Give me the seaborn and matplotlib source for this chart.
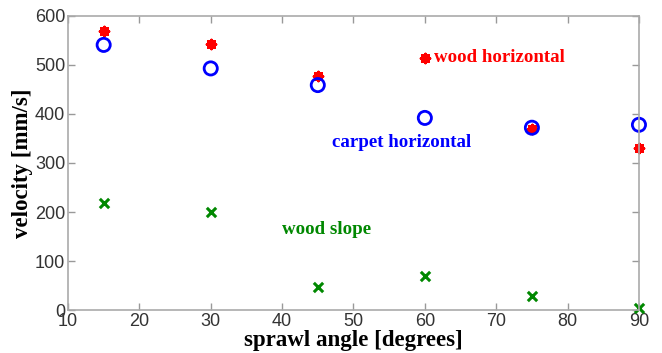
import pandas as pd
import matplotlib
matplotlib.use('Agg')
import matplotlib.pyplot as plt
import seaborn as sns

# sprawl angle values and measured velocities (mm/s)
angles = [15, 30, 45, 60, 75, 90]
wood_horizontal = [570, 543, 477, 515, 370, 331]
carpet_horizontal = [541, 493, 459, 392, 372, 378]
wood_slope = [219, 200, 46, 69, 28, 4]

sns.set_theme(style='white')
plt.rcParams['font.family'] = ['Liberation Sans', 'DejaVu Sans']

df = pd.DataFrame({
    'angle': angles * 3,
    'velocity': carpet_horizontal + wood_horizontal + wood_slope,
    'surface': ['carpet horizontal'] * 6 + ['wood horizontal'] * 6 + ['wood slope'] * 6,
})

fig = plt.figure(figsize=(6.62, 3.53), dpi=100)
ax = fig.add_axes([0.1027, 0.1218, 0.8625, 0.8329])

# wood horizontal: red asterisks (drawn first so the circle sits on top)
sns.scatterplot(data=df[df['surface'] == 'wood horizontal'], x='angle', y='velocity',
                marker=(8, 2, 0), s=38, color='#ff0000', edgecolor='#ff0000', linewidth=2.2,
                ax=ax, clip_on=False)
# carpet: open blue circles
sns.scatterplot(data=df[df['surface'] == 'carpet horizontal'], x='angle', y='velocity',
                marker='o', s=90, facecolor='none', edgecolor='#0000ff', linewidth=2,
                ax=ax, clip_on=False)
# wood slope: green crosses
sns.scatterplot(data=df[df['surface'] == 'wood slope'], x='angle', y='velocity',
                marker='x', s=45, color='#008800', linewidth=2.2, ax=ax, clip_on=False)

ax.set_xlim(10, 90)
ax.set_ylim(0, 600)
ax.set_xticks(range(10, 91, 10))
ax.set_yticks(range(0, 601, 100))

ax.tick_params(direction='in', length=5, width=1, colors='#999999', labelcolor='#333333',
               labelsize=13, top=True, right=True, bottom=True, left=True, pad=2)
for sp in ax.spines.values():
    sp.set_color('#aaaaaa')
    sp.set_linewidth(1.2)

ax.set_xlabel('sprawl angle [degrees]', family='Liberation Serif', fontweight='bold',
              fontsize=16.5, color='black', labelpad=0)
ax.set_ylabel('velocity [mm/s]', family='Liberation Serif', fontweight='bold',
              fontsize=16.5, color='black', labelpad=1)

ax.text(61.3, 515, 'wood horizontal', color='#ff0000', family='Liberation Serif',
        fontweight='bold', fontsize=13.6, va='center')
ax.text(47.0, 341, 'carpet horizontal', color='#0000ff', family='Liberation Serif',
        fontweight='bold', fontsize=13.6, va='center')
ax.text(40.0, 165, 'wood slope', color='#008800', family='Liberation Serif',
        fontweight='bold', fontsize=13.6, va='center')

fig.savefig('out.png', dpi=100)
